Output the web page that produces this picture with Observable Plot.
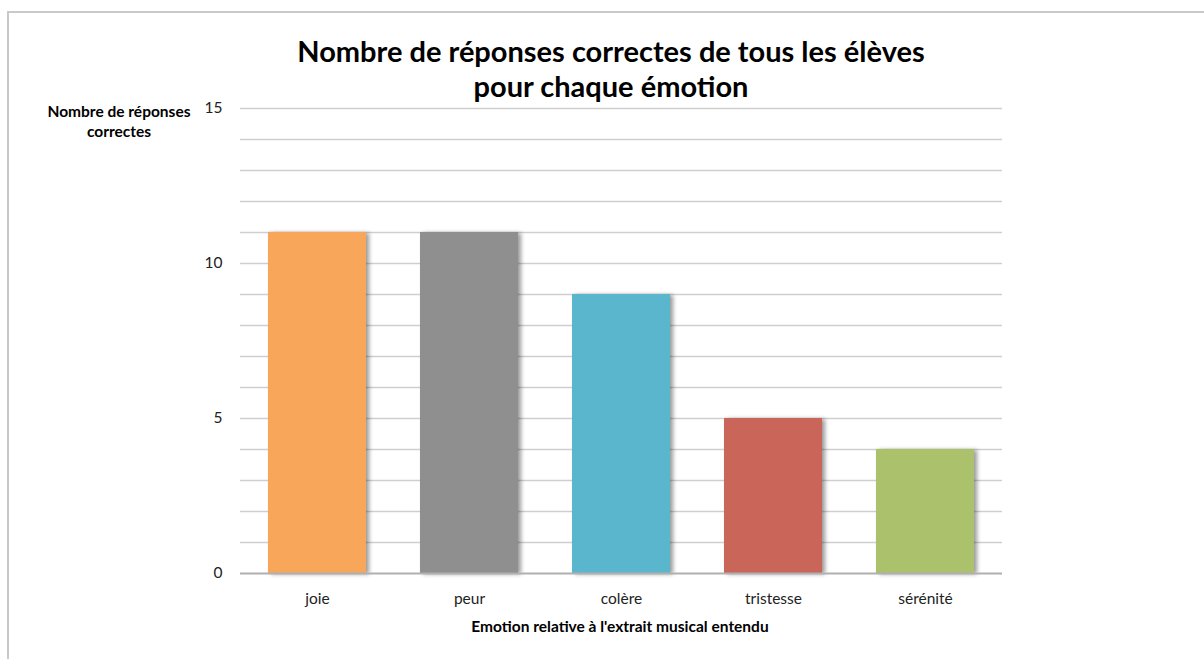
<!DOCTYPE html>
<html>
<head>
<meta charset="utf-8">
<script src="https://cdn.jsdelivr.net/npm/d3@7"></script>
<script src="https://cdn.jsdelivr.net/npm/@observablehq/plot@0.6"></script>
<style>
  html, body { margin: 0; padding: 0; background: #fff; }
  #wrap { position: relative; width: 1204px; height: 659px; overflow: hidden; font-family: Lato, "Open Sans", sans-serif; }
  #frame { position: absolute; left: 7px; top: 11px; width: 1300px; height: 800px; border-top: 2px solid #c9c9c9; border-left: 2px solid #c9c9c9; }
  #title { position: absolute; left: 0; width: 1222px; top: 33px; text-align: center; font-weight: bold; font-size: 29px; line-height: 35px; color: #000; }
  #ylab { position: absolute; left: 19px; width: 200px; top: 101px; text-align: center; font-weight: bold; font-size: 15.5px; line-height: 20px; color: #000; }
  #xlab { position: absolute; left: 420px; width: 400px; top: 616px; text-align: center; font-weight: bold; font-size: 15.5px; line-height: 20px; color: #000; }
  #chart { position: absolute; left: 0; top: 0; }
</style>
</head>
<body>
<div id="wrap">
  <div id="frame"></div>
  <div id="chart"></div>
  <div id="title">Nombre de réponses correctes de tous les élèves<br>pour chaque émotion</div>
  <div id="ylab">Nombre de réponses<br>correctes</div>
  <div id="xlab">Emotion relative à l'extrait musical entendu</div>
</div>
<script>
const emotions = ["joie", "peur", "colère", "tristesse", "sérénité"];
const counts = [11, 11, 9, 5, 4];
const colors = ["#F8A65A", "#8F8F8F", "#5AB6CD", "#CA655A", "#ABC16B"];
const yTicks = [0, 5, 10, 15];
const gridValues = d3.range(1, 16);

const data = emotions.map((e, i) => ({emotion: e, count: counts[i], color: colors[i]}));

const chart = Plot.plot({
  width: 1204,
  height: 659,
  marginLeft: 240,
  marginRight: 202,
  marginTop: 108,
  marginBottom: 86,
  style: {fontFamily: "Lato, 'Open Sans', sans-serif", fontSize: "15.5px", color: "#222", background: "transparent"},
  x: {domain: emotions, paddingInner: 0.355, paddingOuter: 0.1775, label: null, tickSize: 0, tickPadding: 19},
  y: {domain: [0, 15], ticks: yTicks, label: null, tickSize: 0, tickPadding: 18},
  marks: [
    Plot.ruleY(gridValues, {stroke: "#cfcfcf", strokeWidth: 1.5}),
    Plot.barY(data, {x: "emotion", y: "count", fill: "color"}),
    Plot.ruleY([0], {stroke: "#b0b0b0", strokeWidth: 2}),
    Plot.ruleX([0], {frameAnchor: "left", y1: 0, y2: 15, stroke: "#c4c4c4", strokeWidth: 1.5})
  ]
});
document.getElementById("chart").appendChild(chart);
d3.select(chart).selectAll("g[aria-label='bar']").style("filter", "drop-shadow(3px 1px 2px rgba(0,0,0,0.4))");
</script>
</body>
</html>
